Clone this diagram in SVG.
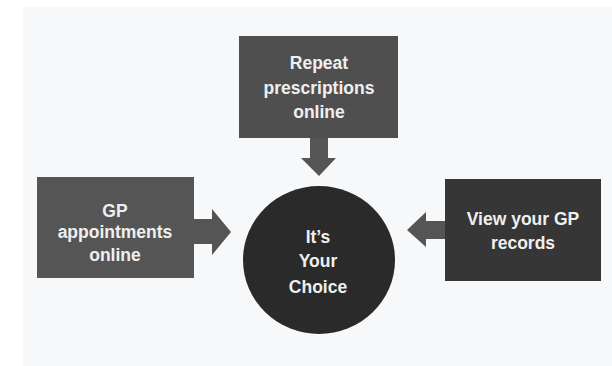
<svg xmlns="http://www.w3.org/2000/svg" width="612" height="366" viewBox="0 0 612 366">
<style>
.lbl{font-family:"Liberation Sans",Arial,sans-serif;font-weight:bold;font-size:17.5px;fill:#efefef;text-anchor:middle}
.arrow{fill:#555555}
</style>
<rect x="0" y="0" width="612" height="366" fill="#ffffff"/>
<rect x="23" y="7" width="589" height="359" fill="#f7f8fa"/>
<g id="connectors">
<path class="arrow" d="M310,137 H328 V158 H336 L319,176 L301,158 H310 Z"/>
<path class="arrow" d="M193,219 H212 V209 L231,232 L212,255 V244 H193 Z"/>
<path class="arrow" d="M445,221 H426 V212 L407,230 L426,247 V239 H445 Z"/>
</g>
<g id="top">
<rect x="239" y="36" width="159" height="102" fill="#4f4f4f"/>
<text class="lbl" x="319" y="69">Repeat</text>
<text class="lbl" x="319" y="94">prescriptions</text>
<text class="lbl" x="319" y="118">online</text>
</g>
<g id="left">
<rect x="37" y="177" width="157" height="101" fill="#555555"/>
<text class="lbl" x="115" y="217">GP</text>
<text class="lbl" x="115" y="238">appointments</text>
<text class="lbl" x="115" y="261">online</text>
</g>
<g id="right">
<rect x="445" y="179" width="156" height="102" fill="#363636"/>
<text class="lbl" x="523" y="225">View your GP</text>
<text class="lbl" x="523" y="249">records</text>
</g>
<g id="center">
<ellipse cx="319" cy="260" rx="76" ry="74" fill="#2a2a2a"/>
<text class="lbl" x="318" y="243">It’s</text>
<text class="lbl" x="318" y="267">Your</text>
<text class="lbl" x="318" y="293">Choice</text>
</g>
</svg>
